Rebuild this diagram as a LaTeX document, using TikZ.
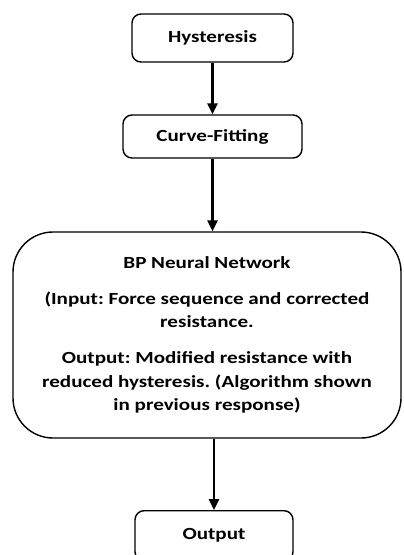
\documentclass[tikz,border=0pt]{standalone}
\usepackage{fontspec}
\setmainfont{Carlito}[FakeStretch=1.24]
\frenchspacing
\usetikzlibrary{arrows.meta}
\begin{document}
\begin{tikzpicture}[x=1pt,y=1pt,
 box/.style={draw, line width=1.4pt, rounded corners=9pt, font=\bfseries\fontsize{17}{23.5}\selectfont, inner sep=0pt},
 flow/.style={line width=2.6pt, -{Triangle[width=10pt,length=11pt]}}]
\useasboundingbox (0,0) rectangle (404,-555);
\clip (0,0) rectangle (404,-555);
\node[box, minimum width=161pt, minimum height=48pt] (hyst) at (212.5,-38) {Hysteresis};
\node[box, minimum width=179pt, minimum height=43pt] (curve) at (212.5,-136.5) {Curve-Fitting};
\node[box, minimum width=388pt, minimum height=206pt, rounded corners=40pt, align=center] (bp) at (207,-335)
 {BP Neural Network\\[12.5pt]
  (Input: Force sequence and corrected\\ resistance.\\[12.5pt]
  Output: Modified resistance with\\ reduced hysteresis. (Algorithm shown\\ in previous response)};
\node[box, minimum width=158pt, minimum height=50pt, anchor=north] (out) at (214,-510) {Output};
\draw[flow] (hyst.south) -- (curve.north);
\draw[flow] (curve.south) -- (curve.south |- bp.north);
\draw[flow] (out.north |- bp.south) -- (out.north);
\end{tikzpicture}
\end{document}
